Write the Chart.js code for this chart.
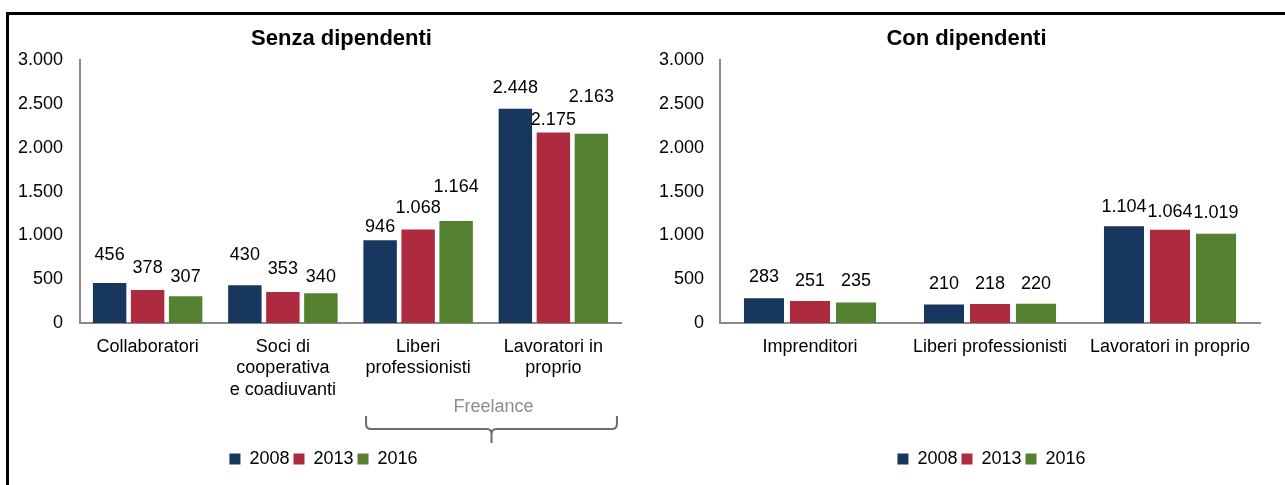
<!DOCTYPE html>
<html>
<head>
<meta charset="utf-8">
<script src="https://cdn.jsdelivr.net/npm/chart.js@4/dist/chart.umd.min.js"></script>
<style>
  html, body { margin: 0; padding: 0; background: #fff; width: 1285px; height: 485px; overflow: hidden; position: relative; }
  .frame { position: absolute; left: 6px; top: 12px; width: 1300px; height: 500px; border-top: 3px solid #000; border-left: 3px solid #000; }
  canvas { position: absolute; top: 16px; }
  #senza { left: 10px; }
  #con { left: 649px; }
</style>
</head>
<body>
<div class="frame"></div>
<canvas id="senza" width="628" height="469"></canvas>
<canvas id="con" width="636" height="469"></canvas>
<script>
const years = ['2008', '2013', '2016'];
const colors = ['#17375e', '#ae2a3f', '#548130'];

const senzaCategories = ['Collaboratori', ['Soci di', 'cooperativa', 'e coadiuvanti'], ['Liberi', 'professionisti'], ['Lavoratori in', 'proprio']];
const senza2008 = [456, 430, 946, 2448];
const senza2013 = [378, 353, 1068, 2175];
const senza2016 = [307, 340, 1164, 2163];

const conCategories = ['Imprenditori', 'Liberi professionisti', 'Lavoratori in proprio'];
const con2008 = [283, 210, 1104];
const con2013 = [251, 218, 1064];
const con2016 = [235, 220, 1019];

const yTicks = [0, 500, 1000, 1500, 2000, 2500, 3000];

// how far each value label sits above its bar (per series, per category)
const senzaLift = [[28, 30, 13, 21], [22, 23, 21, 13], [19, 16, 34, 37]];
const conLift = [[21, 21, 19], [20, 20, 18], [21, 20, 21]];

const FONT = '"Liberation Sans", Arial, sans-serif';
const axisGray = '#8a8a8a';
Chart.defaults.font.family = FONT;

// 3000 -> "3.000"
const fmt = v => String(v).replace(/\B(?=(\d{3})+(?!\d))/g, '.');

const valueLabels = {
    id: 'valueLabels',
    afterDatasetsDraw(chart, args, opts) {
        const ctx = chart.ctx;
        ctx.save();
        ctx.font = '18px ' + FONT;
        ctx.fillStyle = '#000';
        ctx.textAlign = 'center';
        ctx.textBaseline = 'middle';
        chart.data.datasets.forEach((ds, i) => {
            chart.getDatasetMeta(i).data.forEach((bar, j) => {
                ctx.fillText(fmt(ds.data[j]), bar.x, bar.y - opts.lift[i][j]);
            });
        });
        ctx.restore();
    }
};

// shift title / legend sideways after layout
const boxNudge = {
    id: 'boxNudge',
    afterLayout(chart, args, opts) {
        const t = chart.titleBlock;
        if (t && opts.title) { t.left += opts.title; t.right += opts.title; }
        const l = chart.legend;
        if (l && opts.legend) { l.left += opts.legend; l.right += opts.legend; }
    }
};

// curly brace grouping the two freelance categories
const freelanceBrace = {
    id: 'freelanceBrace',
    afterDraw(chart) {
        const ctx = chart.ctx;
        const x = chart.scales.x;
        const step = x.getPixelForValue(1) - x.getPixelForValue(0);
        const left = x.getPixelForValue(2) - 0.385 * step;
        const right = x.getPixelForValue(3) + 0.47 * step;
        const mid = (left + right) / 2;
        const base = chart.chartArea.bottom;
        const yTop = base + 93, yLine = base + 106, yTip = base + 120, r = 5;
        ctx.save();
        ctx.strokeStyle = '#6d6d6d';
        ctx.lineWidth = 2;
        ctx.beginPath();
        ctx.moveTo(left, yTop);
        ctx.lineTo(left, yLine - r);
        ctx.quadraticCurveTo(left, yLine, left + r, yLine);
        ctx.lineTo(mid - r, yLine);
        ctx.quadraticCurveTo(mid, yLine, mid, yLine + r);
        ctx.lineTo(mid, yTip);
        ctx.moveTo(mid, yLine + r);
        ctx.quadraticCurveTo(mid, yLine, mid + r, yLine);
        ctx.lineTo(right - r, yLine);
        ctx.quadraticCurveTo(right, yLine, right, yLine - r);
        ctx.lineTo(right, yTop);
        ctx.stroke();
        ctx.font = '18px ' + FONT;
        ctx.fillStyle = '#8c8c8c';
        ctx.textAlign = 'center';
        ctx.textBaseline = 'middle';
        ctx.fillText('Freelance', mid + 2, base + 84);
        ctx.restore();
    }
};

function makeChart(id, cfg) {
    return new Chart(document.getElementById(id), {
        type: 'bar',
        data: {
            labels: cfg.labels,
            datasets: years.map((y, i) => ({
                label: y,
                data: cfg.series[i],
                backgroundColor: colors[i],
                categoryPercentage: cfg.catPct,
                barPercentage: cfg.barPct
            }))
        },
        options: {
            responsive: false,
            animation: false,
            devicePixelRatio: 1,
            layout: { padding: { left: 0, right: cfg.padRight, top: 0, bottom: 7 } },
            scales: {
                x: {
                    grid: { display: false, drawTicks: false },
                    border: { color: axisGray, width: 2 },
                    ticks: { color: '#000', font: { size: 18 }, padding: 13, autoSkip: false, maxRotation: 0 },
                    afterFit: s => { s.height = 123; }
                },
                y: {
                    min: 0,
                    max: 3000,
                    grid: { display: false, drawTicks: false },
                    border: { color: axisGray, width: 2 },
                    ticks: { color: '#000', font: { size: 18 }, padding: cfg.tickPad, callback: v => fmt(v) },
                    afterBuildTicks: s => { s.ticks = yTicks.map(v => ({ value: v })); },
                    afterFit: s => { s.width = cfg.yWidth; }
                }
            },
            plugins: {
                title: {
                    display: true,
                    text: cfg.title,
                    color: '#000',
                    font: { size: 22, weight: 'bold' },
                    padding: { top: 10, bottom: 8 }
                },
                legend: {
                    position: 'bottom',
                    labels: { boxWidth: 11, boxHeight: 11, padding: 4, color: '#000', font: { size: 18 } }
                },
                tooltip: { enabled: false },
                valueLabels: { lift: cfg.lift },
                boxNudge: cfg.nudge
            }
        },
        plugins: [valueLabels, boxNudge].concat(cfg.extra || [])
    });
}

makeChart('senza', {
    title: 'Senza dipendenti',
    labels: senzaCategories,
    series: [senza2008, senza2013, senza2016],
    lift: senzaLift,
    catPct: 0.843,
    barPct: 0.88,
    padRight: 17,
    yWidth: 70,
    tickPad: 17,
    nudge: { title: 26, legend: 8 },
    extra: [freelanceBrace]
});

makeChart('con', {
    title: 'Con dipendenti',
    labels: conCategories,
    series: [con2008, con2013, con2016],
    lift: conLift,
    catPct: 0.767,
    barPct: 0.87,
    padRight: 25,
    yWidth: 71,
    tickPad: 16,
    nudge: { title: 12, legend: 37 }
});
</script>
</body>
</html>
